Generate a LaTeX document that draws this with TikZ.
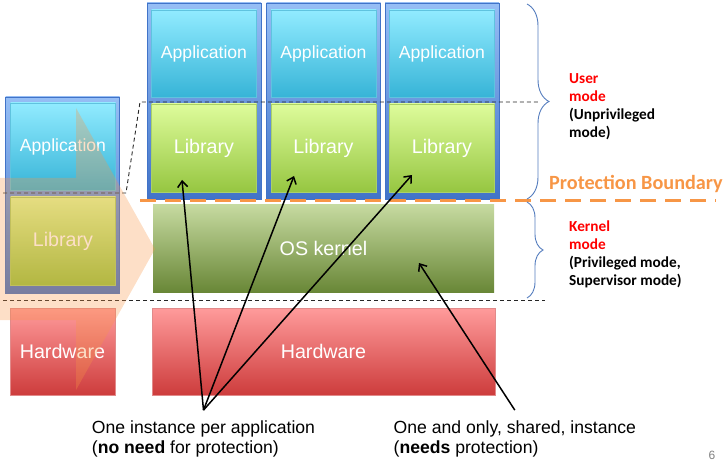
\documentclass[tikz,border=0pt]{standalone}
\usepackage{fontspec}
\setmainfont{Liberation Sans}
\newfontfamily\calibri{Carlito}
\usetikzlibrary{arrows.meta,decorations.pathreplacing,positioning}

\definecolor{appTop}{RGB}{145,235,255}
\definecolor{appBot}{RGB}{55,180,215}
\definecolor{libTop}{RGB}{222,252,155}
\definecolor{libBot}{RGB}{150,198,65}
\definecolor{osTop}{RGB}{198,218,160}
\definecolor{osBot}{RGB}{105,135,55}
\definecolor{hwTop}{RGB}{255,155,155}
\definecolor{hwBot}{RGB}{205,60,60}
\definecolor{frameTop}{RGB}{150,190,245}
\definecolor{frameBot}{RGB}{65,115,200}
\definecolor{boundary}{RGB}{247,150,70}
\definecolor{braceBlue}{RGB}{85,125,190}
\definecolor{modeRed}{RGB}{255,0,0}

\tikzset{%
	layer/.style    = {rectangle, inner sep=0pt, text=white, font=\fontsize{19.7}{22}\selectfont},
	frame/.style    = {rectangle, minimum width=114pt, minimum height=196pt, top color=frameTop, bottom color=frameBot, draw=frameBot},
	appbox/.style   = {layer, minimum width=105pt, minimum height=87pt, top color=appTop, bottom color=appBot, draw=appBot!80!white, font=\fontsize{17.6}{20}\selectfont},
	libbox/.style   = {layer, minimum width=105pt, minimum height=88pt, top color=libTop, bottom color=libBot, draw=libBot!80!white},
	osbox/.style    = {layer, minimum width=341pt, minimum height=87pt, top color=osTop, bottom color=osBot},
	hwbox/.style    = {layer, minimum height=87pt, top color=hwTop, bottom color=hwBot, draw=hwBot!60!white},
}
\tikzset{%
	sep/.style      = {draw=black!85, line width=0.9pt, dash pattern=on 4pt off 3pt}, % mode separator
	boundline/.style= {draw=boundary, line width=3pt, dash pattern=on 16pt off 9pt},
	boundtext/.style= {text=boundary, font=\calibri\bfseries\fontsize{20.2}{24}\selectfont},
	highlight/.style= {fill=boundary, fill opacity=0.3},
	modebrace/.style= {decorate, draw=braceBlue, line width=0.9pt},
	modes/.style    = {anchor=west, align=left, inner sep=0pt, font=\calibri\bfseries\fontsize{15.3}{18}\selectfont},
	note/.style     = {align=left, inner xsep=0pt, inner ysep=10pt, font=\fontsize{17.6}{20}\selectfont},
	arrow/.style    = {line width=1.5pt, -{Straight Barb[length=6pt,width=10pt]}},
}

\begin{document}
\begin{tikzpicture}[x=1pt,y=-1pt]
	\useasboundingbox (0,0) rectangle (726,476);
	% one stack per application
	\foreach \i/\x in {1/204,2/323.5,3/442}{
		\node[frame] (frame\i) at (\x,101) {};
		\node[appbox] (app\i) at (\x,53.5) {Application};
		\node[libbox] (lib\i) at (\x,148) {Library};
	}
	% stack on the left
	\node[frame] (frameL) at (62.5,195) {};
	\node[appbox] (appL) at (63,146.5) {Application};
	\node[libbox] (libL) at (63,241) {Library};
	\node[hwbox,minimum width=105pt] (hwL) at (62.5,351.5) {Hardware};
	% shared layers
	\node[osbox] (kernel) at (323.5,248.5) {OS kernel};
	\node[hwbox,minimum width=343pt] (hw) at (323.5,351.5) {Hardware};

	\draw[sep] (3,193) -- (126,193) -- (140,102) -- (538,102);
	\draw[sep] (3,300) -- (545,300);
	\draw[boundline] (140,201) -- (716,201);
	\node[boundtext] (pb) at (636,184) {Protection Boundary};

	\fill[highlight] (0,178) -- (76,178) -- (76,108) -- (155,249) -- (76,390) -- (76,320) -- (0,320) -- cycle;

	\draw[modebrace,decoration={brace,amplitude=22pt}] (527,4) -- (527,199);
	\draw[modebrace,decoration={brace,amplitude=16pt}] (527,202) -- (527,298);
	\node[modes] (user) at (569,107) {\textcolor{modeRed}{User}\\\textcolor{modeRed}{mode}\\(Unprivileged\\mode)};
	\node[modes] (kmode) at (569,254) {\textcolor{modeRed}{Kernel}\\\textcolor{modeRed}{mode}\\(Privileged mode,\\Supervisor mode)};

	\node[note] (noneed) at (203.5,438.5) {One instance per application\\(\textbf{no need} for protection)};
	\node[note] (shared) at (514.8,438.5) {One and only, shared, instance\\(\textbf{needs} protection)};
	\coordinate (tipA) at (182,180);
	\coordinate (tipB) at (294,176);
	\coordinate (tipC) at (412,175);
	\coordinate (tipD) at (419,263);
	\draw[arrow] (noneed.north) -- (tipA);
	\draw[arrow] (noneed.north) -- (tipB);
	\draw[arrow] (noneed.north) -- (tipC);
	\draw[arrow] (shared.north) -- (tipD);

	\node[text=black!50,font=\fontsize{12}{14}\selectfont] (page) at (712,455) {6};
\end{tikzpicture}
\end{document}
